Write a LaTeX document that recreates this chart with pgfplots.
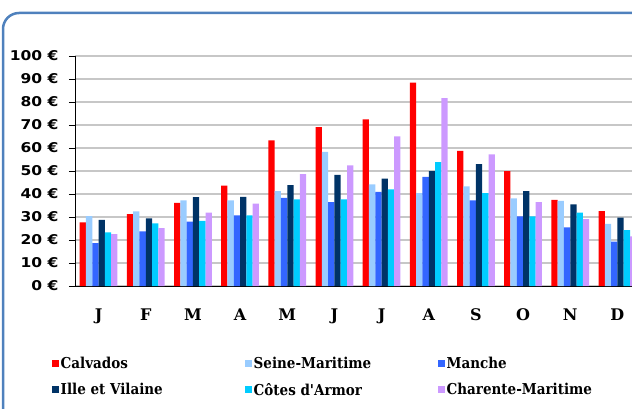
\documentclass[border=0pt]{standalone}
\usepackage{fontspec}
\usepackage{pgfplots}
\usepackage{pgfplotstable}
\pgfplotsset{compat=1.18}
\setmainfont{DejaVu Serif}
\newfontfamily\legfont{DejaVu Serif Condensed Bold}
\newfontfamily\monthfont{DejaVu Serif Bold}
\newfontfamily\tickfont[FakeStretch=1.15]{DejaVu Sans Bold}

\definecolor{cCal}{HTML}{FF0000}
\definecolor{cSei}{HTML}{99CCFF}
\definecolor{cMan}{HTML}{3366FF}
\definecolor{cIll}{HTML}{003366}
\definecolor{cCot}{HTML}{00CCFF}
\definecolor{cCha}{HTML}{CC99FF}
\definecolor{frameblue}{HTML}{4F81BD}

% prix moyen par mois (euros)
\pgfplotstableread{
m  cal   sei   man   ill   cot   cha
0  27.7  30.4  18.6  28.8  23.3  22.6
1  31.3  32.5  23.8  29.4  27.2  25.2
2  36.1  37.2  28.0  38.6  28.3  31.9
3  43.6  37.2  30.7  38.8  30.7  35.8
4  63.3  41.3  38.3  43.9  37.7  48.6
5  69.1  58.3  36.5  48.3  37.7  52.5
6  72.5  44.2  40.9  46.7  42.0  65.1
7  88.4  40.4  47.4  50.0  53.9  81.7
8  58.8  43.3  37.2  53.0  40.4  57.2
9  50.0  38.1  30.3  41.3  30.3  36.5
10 37.4  37.0  25.5  35.5  31.9  29.1
11 32.6  27.0  19.3  29.7  24.3  21.6
}\prix

\begin{document}
\begin{tikzpicture}[x=1pt,y=1pt]
\path[use as bounding box] (0,0) rectangle (632,408);
\clip (0,0) rectangle (632,408);
\draw[frameblue, line width=2.5pt, rounded corners=16pt] (3,395) rectangle (660,-30);

\begin{axis}[
    at={(75pt,122pt)}, anchor=south west,
    scale only axis, width=566pt, height=230pt,
    xmin=-0.5, xmax=11.5, ymin=0, ymax=100,
    axis x line*=bottom, axis y line*=left,
    axis line style={-, black, line width=1pt},
    ybar=0pt, bar width=6.3pt,
    xtick={0,...,11},
    xticklabels={J,F,M,A,M,J,J,A,S,O,N,D},
    x tick style={draw=none},
    xticklabel style={font=\monthfont\fontsize{16}{16}\selectfont, yshift=-13pt},
    extra x ticks={-0.5,0.5,...,11.5},
    extra x tick labels={},
    extra x tick style={tick style={draw=black!70, line width=0.8pt}, major tick length=6pt, tick align=outside, grid=none},
    ytick={0,10,...,100},
    yticklabels={0 €,10 €,20 €,30 €,40 €,50 €,60 €,70 €,80 €,90 €,100 €},
    yticklabel style={font=\tickfont\fontsize{13.5}{13.5}\selectfont, xshift=-7pt},
    y tick style={black, line width=0.8pt},
    major tick length=6pt, tick align=outside,
    ymajorgrids, grid style={black!22, line width=1.3pt},
    legend columns=3,
    legend cell align=left,
    legend style={at={(-26pt,-67pt)}, anchor=north west, draw=none, fill=none,
        font=\legfont\fontsize{15}{15}\selectfont,
        nodes={inner xsep=1.5pt},
        /tikz/every even column/.append style={column sep=0pt},
        row sep=9pt},
    legend image code/.code={\fill[#1] (0pt,-3.5pt) rectangle (7pt,3.5pt);},
]
\addplot[fill=cCal, draw=none] table[x=m, y=cal] {\prix};
\addplot[fill=cSei, draw=none] table[x=m, y=sei] {\prix};
\addplot[fill=cMan, draw=none] table[x=m, y=man] {\prix};
\addplot[fill=cIll, draw=none] table[x=m, y=ill] {\prix};
\addplot[fill=cCot, draw=none] table[x=m, y=cot] {\prix};
\addplot[fill=cCha, draw=none] table[x=m, y=cha] {\prix};
\addlegendentry{\makebox[183pt][l]{Calvados}}
\addlegendentry{\makebox[183pt][l]{Seine-Maritime}}
\addlegendentry{\makebox[183pt][l]{Manche}}
\addlegendentry{\makebox[183pt][l]{Ille et Vilaine}}
\addlegendentry{\makebox[183pt][l]{Côtes d'Armor}}
\addlegendentry{\makebox[183pt][l]{Charente-Maritime}}
\end{axis}
\end{tikzpicture}
\end{document}
